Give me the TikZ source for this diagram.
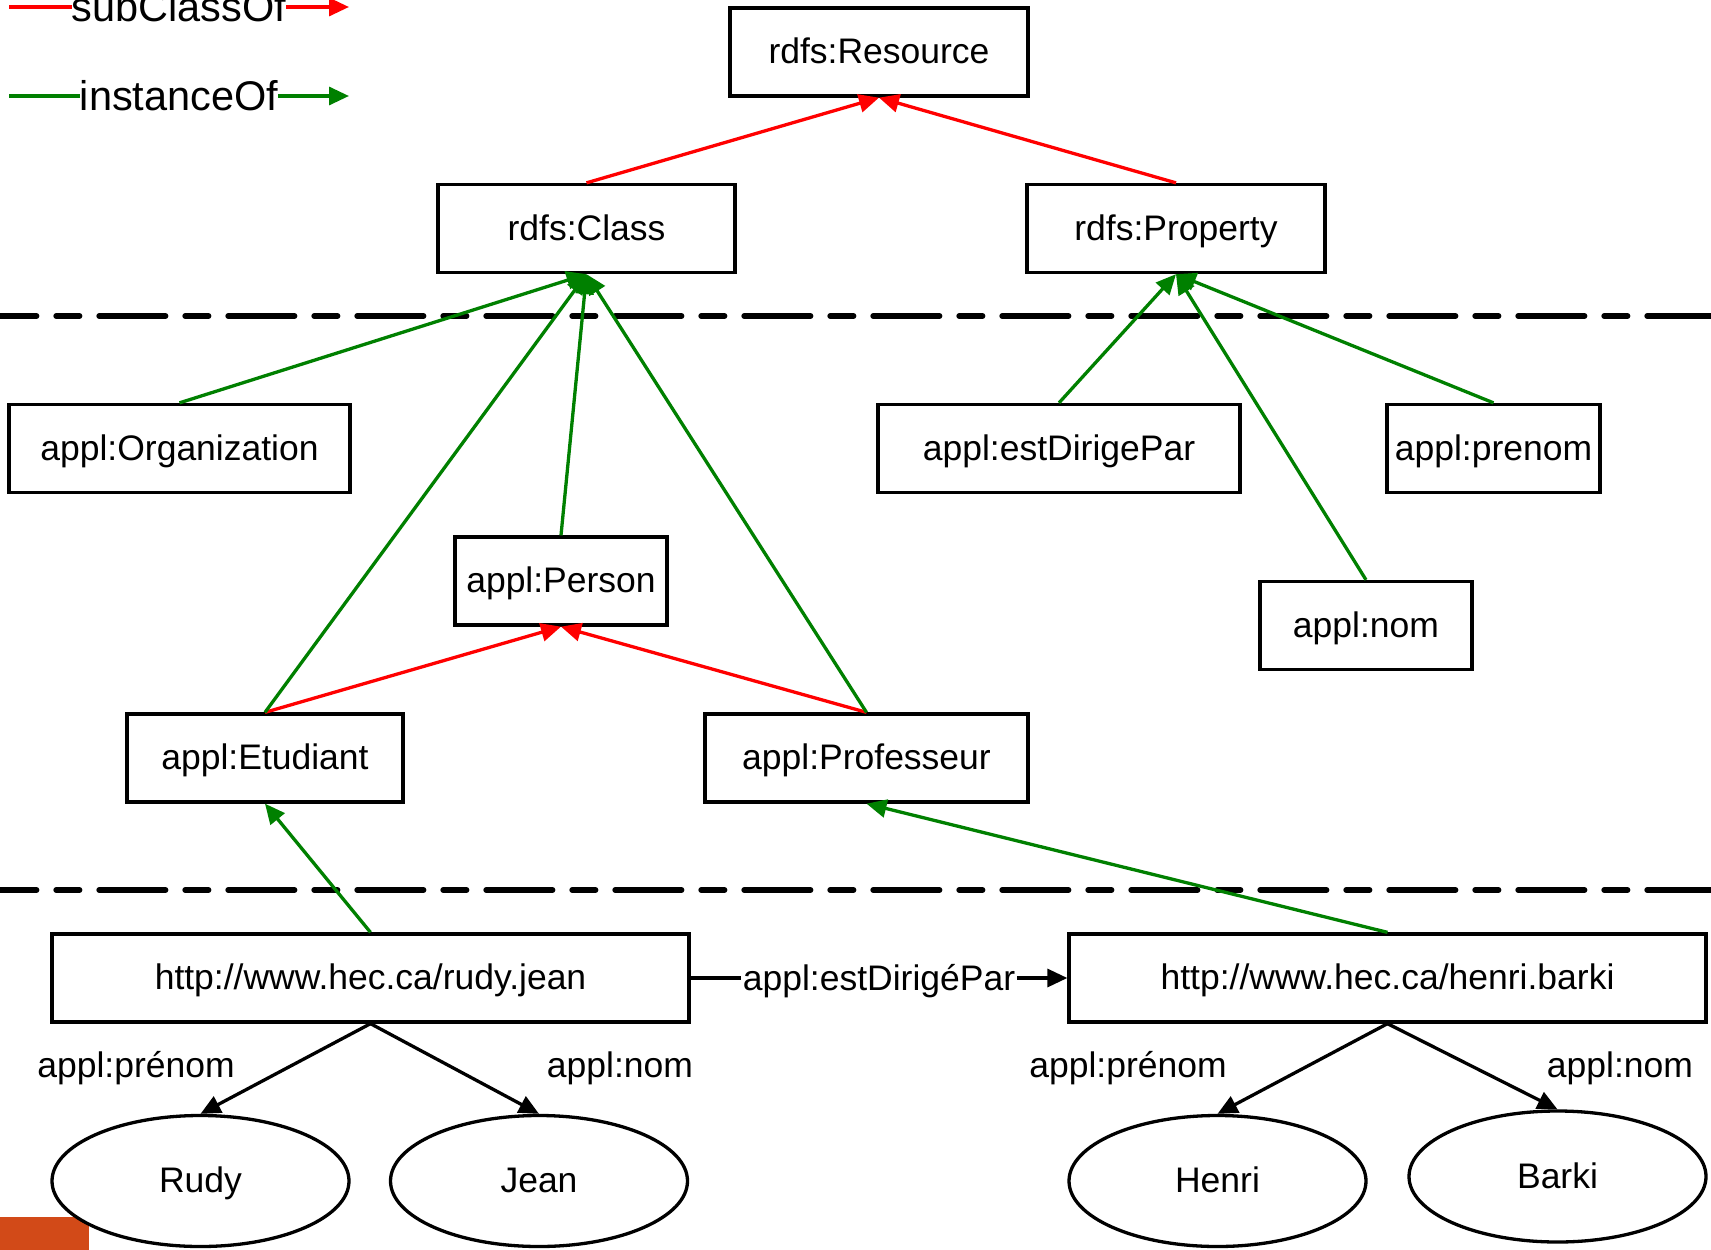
\documentclass[tikz,border=0pt]{standalone}
\usepackage{fontspec}
\setmainfont{Liberation Sans}
\usetikzlibrary{arrows.meta,shapes.geometric}
\definecolor{lred}{HTML}{FF0000}
\definecolor{lgreen}{HTML}{008000}
\definecolor{lorange}{HTML}{D24A18}
\begin{document}
\begin{tikzpicture}[x=1pt,y=-1pt,
  every node/.style={font=\fontsize{35.5pt}{40pt}\selectfont},
  box/.style={draw=black,line width=3.3pt,rectangle,inner sep=0pt,minimum height=88pt,text height=23pt,text depth=0pt,fill=white},
  oval/.style={draw=black,line width=3.3pt,ellipse,inner sep=0pt,minimum width=297pt,minimum height=131pt,text height=23pt,text depth=0pt,fill=white},
  tip/.style={-{Triangle[length=20pt,width=18pt]}},
  sub/.style={draw=lred,line width=3.3pt,tip},
  inst/.style={draw=lgreen,line width=3.3pt,tip},
  rel/.style={draw=black,line width=3.3pt,tip},
  sep/.style={draw=black,line width=5.3pt,line cap=round,dash pattern=on 66.7pt off 19.3pt on 23.7pt off 19.3pt,dash phase=30pt},
  lbl/.style={inner sep=0pt,text height=25.4pt,text depth=0pt},
  leg/.style={fill=white,inner sep=0pt,font=\fontsize{41.5pt}{48pt}\selectfont,text height=29.7pt,text depth=0pt}
]
\useasboundingbox (0,0) rectangle (1711,1250);
\fill[white] (0,0) rectangle (1711,1250);
\fill[lorange] (0,1217) rectangle (89,1250);

% separators
\coordinate (d1a) at (0,316); \coordinate (d1b) at (1711,316);
\coordinate (d2a) at (0,890); \coordinate (d2b) at (1711,890);
\draw[sep] (d1a) -- (d1b);
\draw[sep] (d2a) -- (d2b);

% legend
\coordinate (s0) at (9,7); \coordinate (s1) at (349,7);
\coordinate (i0) at (9,96); \coordinate (i1) at (349,96);
\draw[sub] (s0) -- node[leg] (sl) {subClassOf} (s1);
\draw[inst] (i0) -- node[leg] (il) {instanceOf} (i1);

% nodes
\node[box,minimum width=298pt] (res) at (879,52) {rdfs:Resource};
\node[box,minimum width=297pt] (cls) at (586.5,228.5) {rdfs:Class};
\node[box,minimum width=298pt] (prop) at (1176,228.5) {rdfs:Property};
\node[box,minimum width=341pt] (org) at (179.5,448.5) {appl:Organization};
\node[box,minimum width=362pt] (est) at (1059,448.5) {appl:estDirigePar};
\node[box,minimum width=213pt] (pren) at (1493.5,448.5) {appl:prenom};
\node[box,minimum width=212pt] (pers) at (561,581) {appl:Person};
\node[box,minimum width=212pt] (nom) at (1366,625.5) {appl:nom};
\node[box,minimum width=276pt] (etu) at (265,758) {appl:Etudiant};
\node[box,minimum width=323pt] (prof) at (866.5,758) {appl:Professeur};
\node[box,minimum width=637pt] (ru) at (370.5,978) {http://www.hec.ca/rudy.jean};
\node[box,minimum width=637pt] (hu) at (1387.5,978) {http://www.hec.ca/henri.barki};

\node[oval] (rudy) at (200.5,1181) {Rudy};
\node[oval] (jean) at (539,1181) {Jean};
\node[oval] (henri) at (1217.5,1181) {Henri};
\node[oval] (barki) at (1557.5,1176.5) {Barki};

% subClassOf
\draw[sub] (cls.north) -- (res.south);
\draw[sub] (prop.north) -- (res.south);
\draw[sub] (etu.north) -- (pers.south);
\draw[sub] (prof.north) -- (pers.south);

% instanceOf
\draw[inst] (org.north) -- (cls.south);
\draw[inst] (etu.north) -- (cls.south);
\draw[inst] (pers.north) -- (cls.south);
\draw[inst] (prof.north) -- (cls.south);
\draw[inst] (est.north) -- (prop.south);
\draw[inst] (pren.north) -- (prop.south);
\draw[inst] (nom.north) -- (prop.south);
\draw[inst] (ru.north) -- (etu.south);
\draw[inst] (hu.north) -- (prof.south);

% instance relations
\draw[rel] (ru) -- node[lbl,fill=white,inner xsep=2pt] (edp) {appl:estDirigéPar} (hu);
\draw[rel] (ru.south) -- (rudy.north);
\draw[rel] (ru.south) -- (jean.north);
\draw[rel] (hu.south) -- (henri.north);
\draw[rel] (hu.south) -- (barki.north);

\node[lbl] (lp1) at (136,1065) {appl:prénom};
\node[lbl] (ln1) at (620,1065) {appl:nom};
\node[lbl] (lp2) at (1128,1065) {appl:prénom};
\node[lbl] (ln2) at (1620,1065) {appl:nom};
\end{tikzpicture}
\end{document}
